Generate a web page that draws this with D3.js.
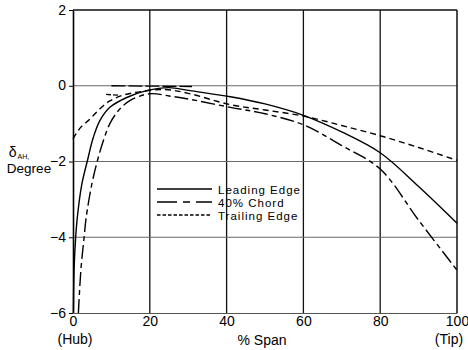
<html>
<head>
  <style>
    body { margin: 0; background: #fff; }
    svg { display: block; font-family: "Liberation Sans", Arial, Helvetica, sans-serif; }
  </style>
</head>
<body>
  <svg id="chart"></svg>
  <script src="https://cdn.jsdelivr.net/npm/d3@7"></script>
  <script>
    // % span and deviation (degree)
    var spanLE = [0.1, 0.3, 0.7, 1.1, 2.3, 3.7, 5.3, 7.0, 9.6, 14, 19.2, 25, 30.5, 41, 50, 60, 70, 80, 90, 100];
    var deltaLE = [-6, -4.8, -4, -3.5, -2.6, -2.0, -1.36, -0.92, -0.57, -0.31, -0.13, -0.05, -0.13, -0.29, -0.48, -0.78, -1.22, -1.77, -2.66, -3.63];

    var spanChord = [1.4, 2.1, 2.9, 3.4, 4.9, 6.3, 7.9, 9.6, 11.8, 14.8, 20, 25, 30.5, 41, 50, 60, 70, 80, 90, 100];
    var deltaChord = [-6, -4.8, -4, -3.5, -2.6, -2.0, -1.45, -1.0, -0.66, -0.39, -0.21, -0.27, -0.36, -0.57, -0.74, -1.03, -1.58, -2.2, -3.55, -4.87];

    var spanTE = [0, 2, 4.4, 7, 9.6, 13, 18, 24, 30, 41, 50, 60, 70, 80, 90, 100];
    var deltaTE = [-1.4, -1.1, -0.88, -0.61, -0.4, -0.25, -0.15, -0.1, -0.2, -0.5, -0.64, -0.8, -1.05, -1.32, -1.63, -1.97];

    // short stray segments near the top of the hub curves
    var stubSpan = [[10, 31], [8.6, 12]];
    var stubDelta = [[0, -0.02], [-0.23, -0.25]];

    var seriesNames = ["Leading Edge", "40% Chord", "Trailing Edge"];
    var seriesDash = [null, "14,4,5,4", "6,4"];
    var xTicks = [0, 20, 40, 60, 80, 100];
    var yTicks = [-6, -4, -2, 0, 2];

    var width = 468, height = 350;
    var plot = { left: 73, right: 457, top: 10, bottom: 313 };

    var svg = d3.select("#chart").attr("width", width).attr("height", height);

    var x = d3.scaleLinear().domain([0, 100]).range([plot.left, plot.right]);
    var y = d3.scaleLinear().domain([-6, 2]).range([plot.bottom, plot.top]);

    // 网格线
    svg.append("g").selectAll("line")
      .data([20, 40, 60, 80])
      .join("line")
      .attr("x1", d => x(d)).attr("x2", d => x(d))
      .attr("y1", y(2)).attr("y2", y(-6))
      .attr("stroke", "#111").attr("stroke-width", 1.3);

    svg.append("g").selectAll("line")
      .data([-4, -2, 0])
      .join("line")
      .attr("x1", x(0)).attr("x2", x(100))
      .attr("y1", d => y(d)).attr("y2", d => y(d))
      .attr("stroke", "#6a6a6a").attr("stroke-width", 1);

    // 坐标轴
    var yAxis = d3.axisLeft(y).tickValues(yTicks).tickSize(4).tickSizeOuter(0).tickPadding(3);
    var gy = svg.append("g").attr("transform", "translate(" + plot.left + ",0)").call(yAxis);
    gy.select(".domain").attr("stroke", "#000").attr("stroke-width", 1.6);
    gy.selectAll(".tick line").attr("stroke", "#000");
    gy.selectAll("text").attr("font-size", "14px").attr("fill", "#000").attr("dy", "0.3em");

    var xAxis = d3.axisBottom(x).tickValues(xTicks).tickSize(0).tickSizeOuter(0).tickPadding(3);
    var gx = svg.append("g").attr("transform", "translate(0," + plot.bottom + ")").call(xAxis);
    gx.select(".domain").attr("stroke", "#555").attr("stroke-width", 1.2);
    gx.selectAll("text").attr("font-size", "14px").attr("fill", "#000");

    // top and right frame
    svg.append("line").attr("x1", x(0)).attr("x2", x(100)).attr("y1", y(2)).attr("y2", y(2))
      .attr("stroke", "#111").attr("stroke-width", 1.3);
    svg.append("line").attr("x1", x(100)).attr("x2", x(100)).attr("y1", y(2)).attr("y2", y(-6))
      .attr("stroke", "#111").attr("stroke-width", 1.5);

    // 曲线
    var line = d3.line()
      .x(d => x(d[0]))
      .y(d => y(d[1]))
      .curve(d3.curveCatmullRom.alpha(0.5));

    var series = [
      d3.zip(spanLE, deltaLE),
      d3.zip(spanChord, deltaChord),
      d3.zip(spanTE, deltaTE)
    ];

    svg.append("g").selectAll("path")
      .data(series)
      .join("path")
      .attr("d", line)
      .attr("fill", "none")
      .attr("stroke", "#000")
      .attr("stroke-width", 1.4)
      .attr("stroke-dasharray", (d, i) => seriesDash[i]);

    svg.append("g").selectAll("path")
      .data(stubSpan.map((s, i) => d3.zip(s, stubDelta[i])))
      .join("path")
      .attr("d", d3.line().x(d => x(d[0])).y(d => y(d[1])))
      .attr("fill", "none")
      .attr("stroke", "#000")
      .attr("stroke-width", 1.3)
      .attr("stroke-dasharray", (d, i) => i == 0 ? "14,3" : "5,2");

    // 图例
    var legend = svg.append("g").attr("transform", "translate(157,189)");
    var legendRow = 13;
    legend.selectAll("line")
      .data(seriesNames)
      .join("line")
      .attr("x1", 0).attr("x2", 55)
      .attr("y1", (d, i) => i * legendRow).attr("y2", (d, i) => i * legendRow)
      .attr("stroke", "#000")
      .attr("stroke-width", 1.3)
      .attr("stroke-dasharray", (d, i) => i == 1 ? "20,6,7,6" : (i == 2 ? "3.5,2" : null));
    legend.selectAll("text")
      .data(seriesNames)
      .join("text")
      .attr("x", 61)
      .attr("y", (d, i) => i * legendRow + 4.5)
      .attr("font-size", "11.5px")
      .attr("letter-spacing", "1px")
      .text(d => d);

    // 轴标题
    var ylab = svg.append("text").attr("font-size", "14px").attr("text-anchor", "middle");
    ylab.append("tspan").attr("x", 19).attr("y", 157).text("δ");
    ylab.append("tspan").attr("font-size", "7px").attr("dx", 1).attr("dy", 2).text("AH,");
    svg.append("text").attr("x", 29).attr("y", 173).attr("font-size", "13.5px")
      .attr("text-anchor", "middle").text("Degree");

    svg.append("text").attr("x", 75).attr("y", 344).attr("font-size", "14px")
      .attr("text-anchor", "middle").text("(Hub)");
    svg.append("text").attr("x", 449).attr("y", 344).attr("font-size", "14px")
      .attr("text-anchor", "middle").text("(Tip)");
    svg.append("text").attr("x", 262).attr("y", 345).attr("font-size", "14px")
      .attr("text-anchor", "middle").text("% Span");
  </script>
</body>
</html>
